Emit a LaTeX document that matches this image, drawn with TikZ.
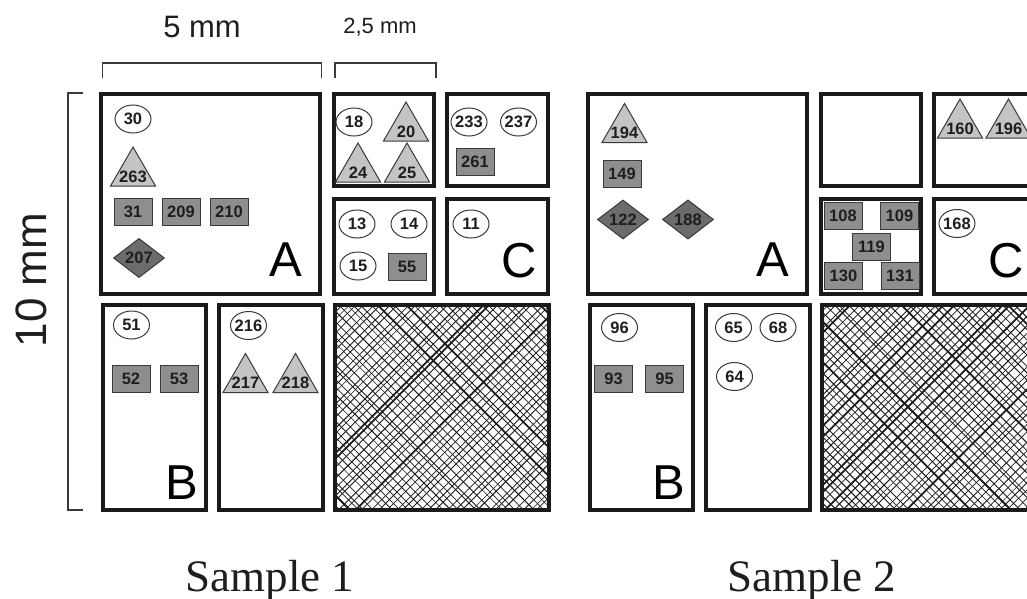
\documentclass[tikz,border=0pt]{standalone}
\usepackage{fontspec}
\setmainfont{Liberation Sans}
\newfontfamily\serifface{Liberation Serif}
\usetikzlibrary{shapes.geometric}

\definecolor{boxc}{HTML}{1A1A1A}
\definecolor{outc}{HTML}{3A3A3A}
\definecolor{txtc}{HTML}{1E1E1E}
\definecolor{tric}{HTML}{C4C4C4}
\definecolor{sqc}{HTML}{8E8E8E}
\definecolor{diac}{HTML}{6C6C6C}
\definecolor{hatchc}{HTML}{1C1C1C}

\tikzset{
  box/.style={draw=boxc, line width=4pt},
  brk/.style={draw=outc, line width=1.6pt},
  num/.style={font=\fontsize{16.5}{16.5}\selectfont\bfseries, text=txtc, inner sep=0pt},
  circ/.style={ellipse, draw=outc, line width=1pt, fill=white,
    minimum width=36pt, minimum height=28pt, num, inner sep=-2.5pt},
  sq/.style={rectangle, draw=outc, line width=1pt, fill=sqc,
    minimum width=38pt, minimum height=27pt, num},
  dia/.style={diamond, draw=outc, line width=1pt, fill=diac,
    minimum width=51pt, minimum height=37pt, num},
  tri/.style={regular polygon, regular polygon sides=3, draw=outc,
    line width=1pt, fill=tric, minimum size=52pt, inner sep=0pt},
  trilab/.style={num, yshift=-3.5pt},
  letter/.style={font=\fontsize{49}{49}\selectfont, text=black,
    inner sep=0pt, anchor=base east},
  scale label/.style={text=txtc, inner sep=0pt, anchor=base},
  sample/.style={font=\serifface\fontsize{45}{45}\selectfont, text=txtc,
    inner sep=0pt, anchor=base},
}

% irregular cross-hatching inside a rectangle: x0 y0 x1 y1 seed
\newcommand\crosshatch[5]{%
  \begin{scope}
    \clip (#1,#2) rectangle (#3,#4);
    \pgfmathsetseed{#5}
    \foreach \i in {0,...,54}{
      \pgfmathsetmacro\xa{#1-225+\i*8.4+2.5*rand}
      \pgfmathsetmacro\wa{0.6+0.45*rnd}
      \pgfmathsetmacro\wb{ifthenelse(rnd>0.93,1.8,\wa)}
      \draw[hatchc, line width=\wb pt] (\xa,#2) -- ++(240,240);
      \pgfmathsetmacro\xb{#1-225+\i*8.4+2.5*rand}
      \pgfmathsetmacro\wc{0.6+0.45*rnd}
      \pgfmathsetmacro\wd{ifthenelse(rnd>0.93,1.8,\wc)}
      \draw[hatchc, line width=\wd pt] (\xb,#4) -- ++(240,-240);
    }
  \end{scope}}

\begin{document}
\begin{tikzpicture}[x=1pt, y=-1pt]
\useasboundingbox (0,0) rectangle (1027,599);
\fill[white] (0,0) rectangle (1027,599);
\clip (0,0) rectangle (1027,599);

% ---------- scale marks ----------
\node[scale label, font=\fontsize{31}{31}\selectfont] (lab5) at (202,38) {5 mm};
\node[scale label, font=\fontsize{22}{22}\selectfont] (lab25) at (380,33.5) {2,5 mm};
\node[scale label, font=\fontsize{44}{44}\selectfont, rotate=90] (lab10) at (46.5,280) {10 mm};
\draw[brk] (102.5,78) -- (102.5,63) -- (321.5,63) -- (321.5,78);
\draw[brk] (335,78) -- (335,63) -- (436,63) -- (436,78);
\draw[brk] (83,93) -- (68,93) -- (68,510) -- (83,510);

% ---------- sample 1 ----------
\crosshatch{335}{305}{549}{510}{11}
\draw[box] (101,94) rectangle (320,294);
\draw[box] (334,94) rectangle (434,186);
\draw[box] (334,198.5) rectangle (434,294);
\draw[box] (447,94) rectangle (548,186);
\draw[box] (447,198.5) rectangle (548,294);
\draw[box] (103,305) rectangle (206,510);
\draw[box] (219,305) rectangle (323,510);
\draw[box] (335,305) rectangle (549,510);

% region A
\node[circ] (s1c30) at (133,119) {30};
\node[tri, label={[trilab]center:263}] (s1t263) at (133,173) {};
\node[sq] (s1s31) at (133,212) {31};
\node[sq] (s1s209) at (181,212) {209};
\node[sq] (s1s210) at (229,212) {210};
\node[dia] (s1d207) at (139,258) {207};
\node[letter] (s1A) at (302.5,276) {A};
% upper middle
\node[circ] (s1c18) at (354,122) {18};
\node[tri, label={[trilab]center:20}] (s1t20) at (406,128) {};
\node[tri, label={[trilab]center:24}] (s1t24) at (358,169) {};
\node[tri, label={[trilab]center:25}] (s1t25) at (407,169) {};
% lower middle
\node[circ] (s1c13) at (357,224) {13};
\node[circ] (s1c14) at (409,224) {14};
\node[circ] (s1c15) at (358,266) {15};
\node[sq] (s1s55) at (407,267) {55};
% region C
\node[circ] (s1c233) at (469,122) {233};
\node[circ] (s1c237) at (518.5,122) {237};
\node[sq] (s1s261) at (475,162) {261};
\node[circ] (s1c11) at (471,224) {11};
\node[letter] (s1C) at (537.5,277) {C};
% region B
\node[circ] (s1c51) at (131.5,325) {51};
\node[sq] (s1s52) at (131,379) {52};
\node[sq] (s1s53) at (179,379) {53};
\node[letter] (s1B) at (198,499) {B};
% second lower column
\node[circ] (s1c216) at (248.5,325.5) {216};
\node[tri, label={[trilab]center:217}] (s1t217) at (245.5,379.5) {};
\node[tri, label={[trilab]center:218}] (s1t218) at (295.5,379.5) {};

% ---------- sample 2 ----------
\crosshatch{822}{305}{1036}{510}{29}
\draw[box] (588,94) rectangle (807,294);
\draw[box] (821,94) rectangle (921,186);
\draw[box] (821,198.5) rectangle (921,294);
\draw[box] (934,94) rectangle (1035,186);
\draw[box] (934,198.5) rectangle (1035,294);
\draw[box] (590,305) rectangle (693,510);
\draw[box] (706,305) rectangle (810,510);
\draw[box] (822,305) rectangle (1036,510);

% region A
\node[tri, label={[trilab]center:194}] (s2t194) at (624.5,129.5) {};
\node[sq] (s2s149) at (622,174) {149};
\node[dia] (s2d122) at (623,219.5) {122};
\node[dia] (s2d188) at (688,219.5) {188};
\node[letter] (s2A) at (789.5,276) {A};
% lower middle
\node[sq] (s2s108) at (843,216) {108};
\node[sq] (s2s109) at (899.5,216) {109};
\node[sq] (s2s119) at (871.5,246.5) {119};
\node[sq] (s2s130) at (843.5,276) {130};
\node[sq] (s2s131) at (900,276) {131};
% region C
\node[tri, label={[trilab]center:160}] (s2t160) at (960,125) {};
\node[tri, label={[trilab]center:196}] (s2t196) at (1008.5,125) {};
\node[circ] (s2c168) at (957,223.5) {168};
\node[letter] (s2C) at (1024.5,277) {C};
% region B
\node[circ] (s2c96) at (619.5,327.5) {96};
\node[sq] (s2s93) at (613.5,378.5) {93};
\node[sq] (s2s95) at (664.5,378.5) {95};
\node[letter] (s2B) at (685,499) {B};
% second lower column
\node[circ] (s2c65) at (733.5,327.5) {65};
\node[circ] (s2c68) at (778,327.5) {68};
\node[circ] (s2c64) at (734.5,376.5) {64};

% ---------- captions ----------
\node[sample] (cap1) at (270,591) {Sample 1};
\node[sample] (cap2) at (812,591) {Sample 2};
\end{tikzpicture}
\end{document}
